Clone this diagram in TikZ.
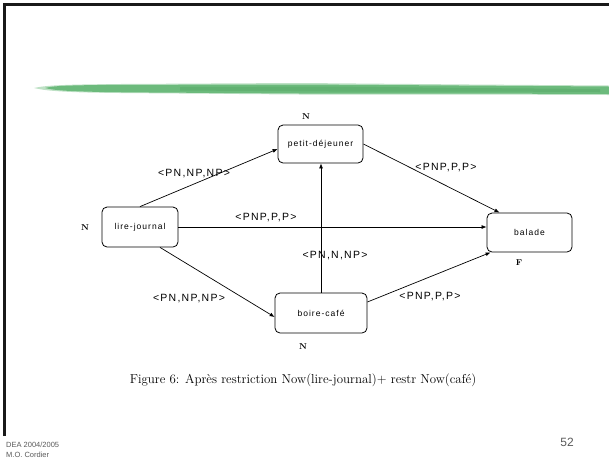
\documentclass[tikz,border=0pt]{standalone}
\usepackage{fontspec}
\usetikzlibrary{arrows.meta}
\newfontfamily\lblfont[LetterSpace=12]{Liberation Sans}
\newfontfamily\footfont{Liberation Sans}
\definecolor{brush}{RGB}{108,186,124}
\definecolor{brushdark}{RGB}{84,168,100}
\definecolor{footgray}{RGB}{90,90,90}
\tikzset{
  state/.style={draw, line width=0.8pt, rounded corners=5pt, inner sep=0pt},
  edge/.style={line width=0.7pt, -{Latex[length=5pt,width=4pt]}},
  elabel/.style={font=\lblfont\fontsize{10.5}{12}\selectfont, inner sep=0pt},
  stext/.style={font=\lblfont\fontsize{8.5}{10}\selectfont},
  flagmark/.style={font=\bfseries\fontsize{8.5}{9}\selectfont, inner sep=0pt},
}
\begin{document}
\begin{tikzpicture}[x=1pt,y=-1pt]
\useasboundingbox (0,0) rectangle (609,459);
% slide frame
\draw[line width=2.6pt, black!90] (4.3,436) -- (4.3,4.6) -- (609,4.6);
% green brush stroke
\fill[brush!55, opacity=0.8] (34,88) .. controls (45,85.5) and (60,84.5) .. (120,84)
  -- (300,83) -- (470,84.5) -- (609,85.5) -- (609,95) -- (470,94.5) -- (300,94.5) -- (120,93) .. controls (60,92.5) and (45,90.5) .. (34,88) -- cycle;
\fill[brush] (45,88) .. controls (55,85.5) and (70,85) .. (150,84.8)
  -- (300,84.5) -- (460,85.5) -- (609,86.5) -- (609,94) -- (460,93.5) -- (300,93.5) -- (150,92.5) .. controls (70,92) and (55,90.5) .. (45,88) -- cycle;
\fill[brushdark, opacity=0.45] (180,87) -- (330,86.5) -- (470,88) -- (600,89) -- (600,92) -- (470,91.5) -- (330,91.5) -- (180,90.5) -- cycle;

% states
\node[state, minimum width=85pt, minimum height=38pt] (pd) at (320.5,144) {};
\node[stext] (tpd) at (pd) {petit-déjeuner};
\node[state, minimum width=76pt, minimum height=40pt] (lj) at (140,227) {};
\node[stext] (tlj) at (lj) {lire-journal};
\node[state, minimum width=85pt, minimum height=39pt] (bl) at (529.5,232.5) {};
\node[stext] (tbl) at (bl) {balade};
\node[state, minimum width=92pt, minimum height=40pt] (bc) at (321,313) {};
\node[stext] (tbc) at (bc) {boire-café};

% marks
\node[flagmark] (mpd) at (306,117) {N};
\node[flagmark] (mlj) at (85,228) {N};
\node[flagmark] (mbl) at (519,263) {F};
\node[flagmark] (mbc) at (303,347) {N};

% edges
\draw[edge] (lj.north) -- ([yshift=-5pt]pd.west);
\draw[edge] (lj.east) -- (lj.east -| bl.west);
\draw[edge] ([xshift=20pt]lj.south) -- ([yshift=-4pt]bc.west);
\draw[edge] (bc.north) -- (bc.north |- pd.south);
\draw[edge] (pd.east) -- ([xshift=-30pt]bl.north);
\draw[edge] ([yshift=11pt]bc.east) -- ([xshift=4pt]bl.south west);

% edge labels
\node[elabel] (l1) at (194,174) {<PN,NP,NP>};
\node[elabel] (l2) at (266,218) {<PNP,P,P>};
\node[elabel] (l3) at (189,299) {<PN,NP,NP>};
\node[elabel] (l4) at (335,256) {<PN,N,NP>};
\node[elabel] (l5) at (446,168) {<PNP,P,P>};
\node[elabel] (l6) at (430,297) {<PNP,P,P>};

% caption
\node[inner sep=0pt, font=\fontsize{12.9}{14}\selectfont] (cap) at (303,380) {Figure 6: Après restriction Now(lire-journal)+ restr Now(café)};

% footer
\node[anchor=west, inner sep=0pt, text=footgray, font=\footfont\fontsize{7.5}{8}\selectfont] (f1) at (6,445) {DEA 2004/2005};
\node[anchor=west, inner sep=0pt, text=footgray, font=\footfont\fontsize{7.5}{8}\selectfont] (f2) at (6,455) {M.O. Cordier};
\node[inner sep=0pt, text=footgray, font=\footfont\fontsize{12}{13}\selectfont] (pg) at (567,442) {52};
\end{tikzpicture}
\end{document}
